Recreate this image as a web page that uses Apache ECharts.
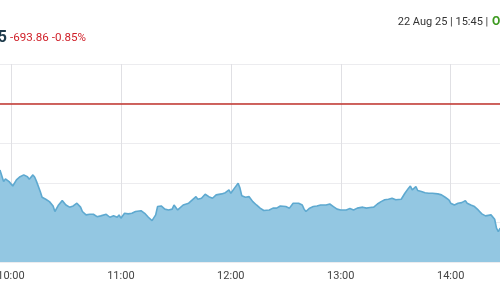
<!DOCTYPE html>
<html><head><meta charset="utf-8">
<script src="https://cdn.jsdelivr.net/npm/echarts@6/dist/echarts.min.js"></script>
<style>html,body{margin:0;padding:0;background:#fff}#c{width:500px;height:300px}</style>
</head><body><div id="c"></div>
<script>
// minutes since midnight
const times = [594,596,597,599,600,601,602,603,605,607,609,610,612,613,614,616,617,619,621,623,624,626,628,629,630,632,634,636,638,639,641,643,645,646,647,649,650,652,654,656,658,659,660,662,664,666,668,669,671,673,675,677,679,680,682,684,686,688,689,691,692,694,695,697,699,700,701,702,704,706,708,709,710,712,713,715,717,719,720,722,724,725,726,728,730,731,732,734,736,738,739,741,743,745,747,748,750,752,754,755,757,759,760,761,763,765,767,769,770,772,774,776,778,780,781,783,785,787,789,790,792,794,796,798,800,802,804,806,808,810,811,813,815,817,818,819,821,822,824,826,828,830,831,833,835,837,839,840,842,844,846,848,849,851,853,855,857,859,860,862,864,865,866,867];
const values = [81665,81606,81620,81606,81601,81584,81581,81615,81631,81640,81631,81618,81640,81628,81606,81556,81527,81517,81505,81483,81455,81488,81510,81500,81488,81477,81483,81497,81477,81455,81438,81441,81441,81449,81429,81433,81441,81441,81426,81433,81426,81438,81421,81446,81443,81446,81455,81463,81459,81446,81426,81409,81438,81480,81483,81467,81463,81467,81488,81463,81472,81488,81480,81497,81514,81505,81530,81517,81522,81542,81530,81534,81522,81539,81534,81544,81550,81564,81547,81573,81598,81573,81534,81527,81530,81522,81505,81488,81472,81460,81467,81463,81472,81472,81483,81493,81480,81472,81497,81497,81497,81488,81467,81455,81472,81480,81483,81488,81493,81488,81493,81480,81467,81463,81467,81463,81470,81463,81472,81467,81477,81472,81475,81477,81493,81505,81514,81517,81522,81514,81505,81517,81547,81573,81584,81564,81581,81561,81556,81550,81547,81547,81544,81544,81539,81527,81514,81497,81488,81497,81500,81510,81497,81488,81480,81463,81443,81433,81438,81438,81416,81371,81354,81371];
const prevClose = 82000.71;
const changeText = '-693.86 -0.85%';
const lastDigit = '5';
const stampText = '22 Aug 25 | 15:45 | ';
const statusText = 'O';
const yMin = 81200, yMax = 82200, yStep = 200;
const xMin = 540, xMax = 868, xStep = 60;

const pad = n => (n < 10 ? '0' : '') + n;
const fmt = m => pad(Math.floor(m / 60)) + ':' + pad(Math.round(m % 60));

const chart = echarts.init(document.getElementById('c'), null, {renderer: 'canvas'});
chart.setOption({
  animation: false,
  grid: {left: -99, right: -2, top: 64, bottom: 38, outerBoundsMode: 'none', containLabel: false},
  xAxis: {
    type: 'value', min: xMin, max: xMax, interval: xStep,
    axisLine: {show: false}, axisTick: {show: false},
    axisLabel: {formatter: v => fmt(v), color: '#444', fontFamily: 'Roboto', fontSize: 11, margin: 9, showMaxLabel: false, showMinLabel: false, hideOverlap: false},
    splitLine: {show: true, lineStyle: {color: '#e0e0e4', width: 1}}
  },
  yAxis: {
    type: 'value', min: yMin, max: yMax, interval: yStep,
    axisLine: {show: false}, axisTick: {show: false}, axisLabel: {show: false},
    splitLine: {show: true, lineStyle: {color: '#ececef', width: 1}}
  },
  series: [{
    type: 'line',
    data: times.map((t, i) => [t, values[i]]),
    showSymbol: false,
    lineStyle: {color: '#5ea9d0', width: 1.6},
    areaStyle: {color: '#93c7e2', opacity: 1, origin: 'start'},
    markLine: {
      silent: true, symbol: 'none', label: {show: false},
      lineStyle: {color: '#c0322b', width: 1.6, type: 'solid'},
      data: [{yAxis: prevClose}]
    }
  }],
  graphic: [
    {type: 'text', x: 7, y: 38, style: {text: lastDigit, textAlign: 'right', textVerticalAlign: 'middle', font: 'bold 16px Roboto', fill: '#1e3b4c'}},
    {type: 'text', x: 10, y: 38, style: {text: changeText, textAlign: 'left', textVerticalAlign: 'middle', font: '11.6px Roboto', fill: '#d0212a'}},
    {type: 'text', x: 491, y: 22, style: {text: stampText, textAlign: 'right', textVerticalAlign: 'middle', font: '11px Roboto', fill: '#333'}},
    {type: 'text', x: 492, y: 22, style: {text: statusText, textAlign: 'left', textVerticalAlign: 'middle', font: 'bold 12px Roboto', fill: '#3c9a1f'}}
  ]
});
</script></body></html>
